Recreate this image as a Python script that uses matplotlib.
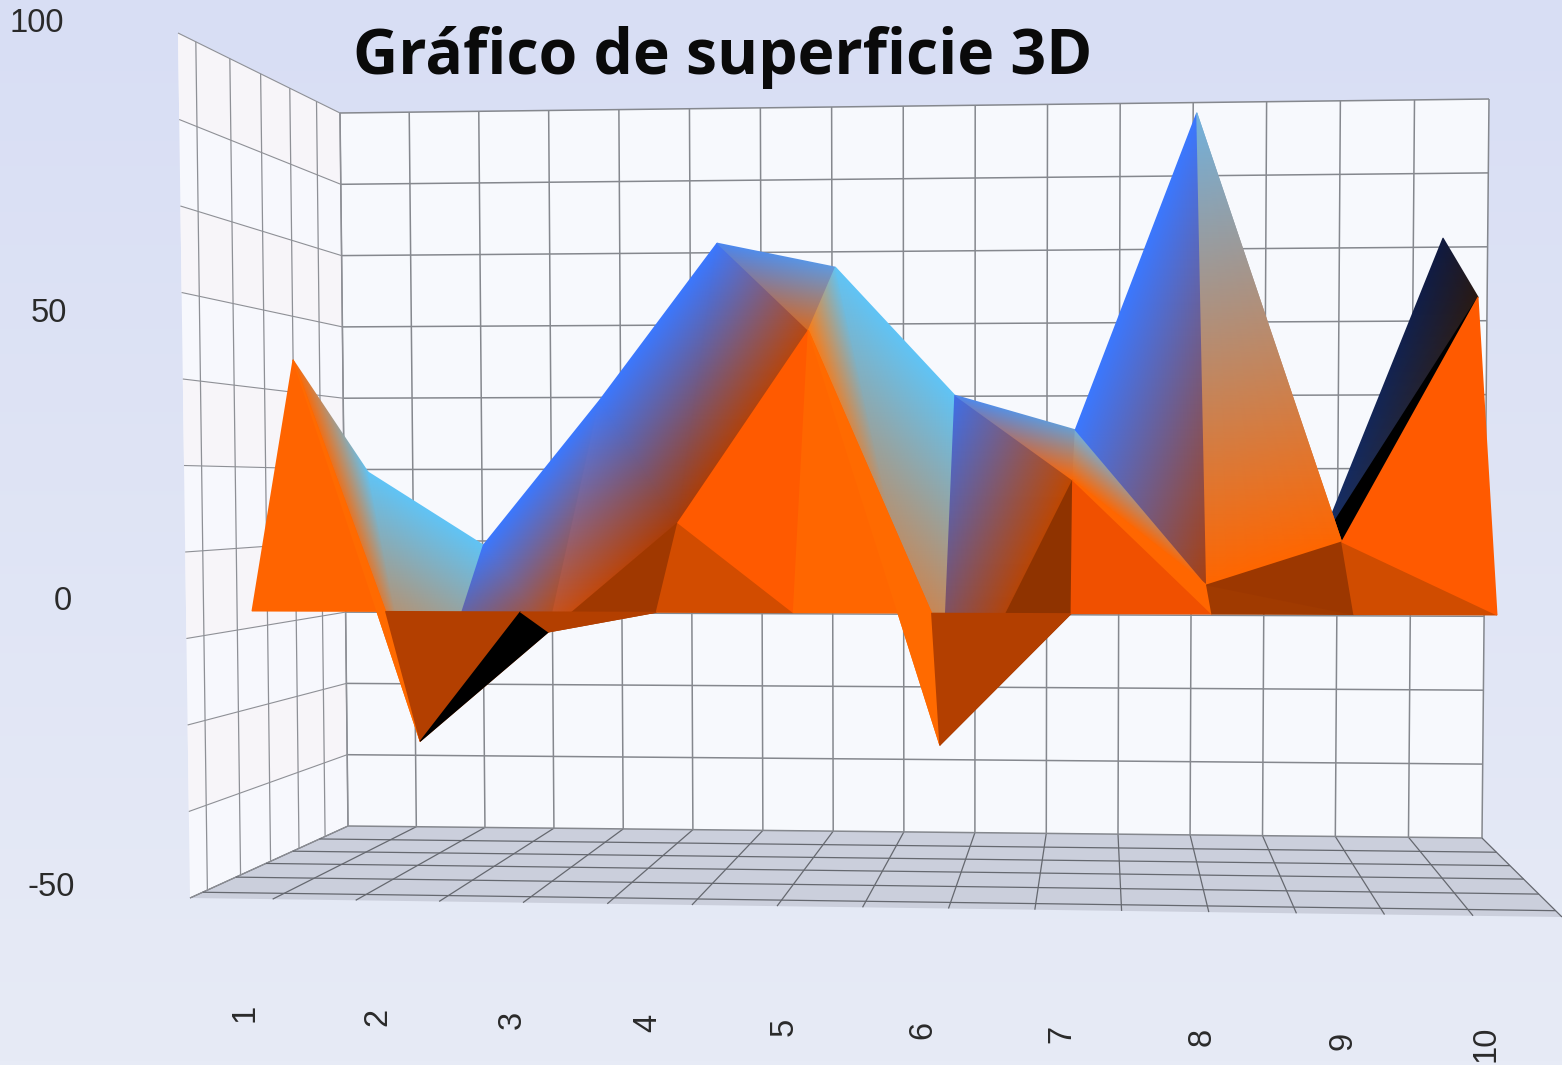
import numpy as np
import matplotlib
matplotlib.use('Agg')
import matplotlib.pyplot as plt
from matplotlib.colors import ListedColormap, Normalize, LinearSegmentedColormap
from matplotlib.patches import Polygon

categories = ['1', '2', '3', '4', '5', '6', '7', '8', '9', '10']
value_ticks = ['100', '50', '0', '-50']

# the three rows of the surface, front to back
front_row = [0, 0, 0, 0, 0, 0, 0, 0, 0, 0]
mid_row = [45.7, -26.2, -5.5, 15.2, 51.6, -26.6, 23.5, 3.8, 12.0, 58.3]
back_row = [24.0, 9.5, 38.6, 70.1, 65.4, 39.9, 33.1, 96.6, 10.3, 71.8]

W, H = 1562, 1065
PERSP = 1.04


def warp(t):
    return t / (t + (1 - t) * PERSP)


# row layout: x start, x end, y of zero left, y of zero right, px per unit
rows = {
    'F': (front_row, 252, 1497, 611, 615, 5.7),
    'M': (mid_row, 293, 1478, 602, 606, 5.3),
    'B': (back_row, 368, 1443, 592, 597, 5.0),
}


def pt(name):
    vals, x0, x1, yl, yr, sc = rows[name[0]]
    i = int(name[1:]) - 1
    f = warp(i / 9)
    return (x0 + (x1 - x0) * f, yl + (yr - yl) * f - vals[i] * sc)


def quad(c, s, t):
    # c = top left, top right, bottom right, bottom left
    tl, tr, br, bl = [np.array(p, float) for p in c]
    return (tl * (1 - s) + tr * s) * (1 - t) + (bl * (1 - s) + br * s) * t


BLUE = '#3b78ff'
LIGHT = '#60c4f6'
ORANGE = '#ff6600'

# facets in drawing order: three corners, three colours
faces = [
    # back strip
    ('M1', 'B1', 'M2', ORANGE, LIGHT, ORANGE),
    ('B1', 'B2', 'M2', LIGHT, LIGHT, ORANGE),
    ('B2', 'M3', 'M2', BLUE, '#c24a08', '#b04000'),
    ('B2', 'B3', 'M3', BLUE, BLUE, '#c24a08'),
    ('B3', 'M4', 'M3', BLUE, '#a83c08', '#d05010'),
    ('B3', 'B4', 'M4', BLUE, BLUE, '#a83c08'),
    ('B4', 'M5', 'M4', BLUE, '#b84810', '#a83c08'),
    ('B4', 'B5', 'M5', '#4a86f0', '#5f9ae0', '#d96a20'),
    ('B5', 'M6', 'M5', LIGHT, ORANGE, '#ff7a10'),
    ('B5', 'B6', 'M6', LIGHT, LIGHT, ORANGE),
    ('B6', 'M7', 'M6', '#3f6fe8', '#c04800', '#a84010'),
    ('B6', 'B7', 'M7', '#4a86f0', '#6a9fd0', ORANGE),
    ('B7', 'M8', 'M7', '#6fb0e0', ORANGE, ORANGE),
    ('B7', 'B8', 'M8', BLUE, BLUE, '#a84010'),
    ('B9', 'B10', 'M10', '#16306a', '#101a40', '#2a1a12'),
    ('B9', 'M10', 'M9', '#000000', '#000000', '#000000'),
    ('B8', 'B9', 'M9', '#6fb2e0', '#ff7a20', ORANGE),
    ('B8', 'M9', 'M8', '#6fb2e0', ORANGE, ORANGE),
    # front strip
    ('M1', 'F1', 'F2', '#ff6400', '#ff6400', '#ff6400'),
    ('M1', 'M2', 'F2', '#ff6a00', '#ff6a00', '#ff6a00'),
    ('M2', 'F2', 'F3', '#b33f00', '#b33f00', '#b33f00'),
    ('M2', 'M3', 'F3', '#000000', '#000000', '#000000'),
    ('M3', 'M4', 'F4', '#a03800', '#a03800', '#a03800'),
    ('M3', 'F3', 'F4', '#b33f00', '#b33f00', '#b33f00'),
    ('M4', 'F4', 'F5', '#d24c00', '#d24c00', '#d24c00'),
    ('M4', 'M5', 'F5', '#ff5a00', '#ff5a00', '#ff5a00'),
    ('M5', 'F5', 'F6', '#ff6600', '#ff6600', '#ff6600'),
    ('M5', 'M6', 'F6', '#ff6a00', '#ff6a00', '#ff6a00'),
    ('M6', 'M7', 'F7', '#8f3300', '#8f3300', '#8f3300'),
    ('M6', 'F6', 'F7', '#b33f00', '#b33f00', '#b33f00'),
    ('M7', 'F7', 'F8', '#f05000', '#f05000', '#f05000'),
    ('M7', 'M8', 'F8', '#ff6600', '#ff6600', '#ff6600'),
    ('M8', 'F8', 'F9', '#a03a00', '#a03a00', '#a03a00'),
    ('M8', 'M9', 'F9', '#9c3700', '#9c3700', '#9c3700'),
    ('M9', 'F9', 'F10', '#d04c00', '#d04c00', '#d04c00'),
    ('M9', 'M10', 'F10', '#ff5a00', '#ff5a00', '#ff5a00'),
]

fig = plt.figure(figsize=(W / 100, H / 100), dpi=100)
ax = fig.add_axes([0, 0, 1, 1])
ax.set_xlim(0, W)
ax.set_ylim(H, 0)
ax.axis('off')

# slide background
bg = LinearSegmentedColormap.from_list('bg', ['#d8def4', '#e7ebf6'])
ax.imshow(np.linspace(0, 1, 256).reshape(-1, 1), cmap=bg, extent=[0, W, H, 0],
          aspect='auto', zorder=0)

back_wall = [(340, 113), (1489, 99), (1482, 838), (348, 826)]
left_wall = [(178, 33), (340, 113), (348, 826), (190, 898)]
floor = [(348, 826), (1482, 838), (1562, 917), (190, 898)]

ax.add_patch(Polygon(back_wall, fc='#f7f9fd', ec='none', zorder=1))
ax.add_patch(Polygon(left_wall, fc='#f7f8fd', ec='none', zorder=1))
ax.add_patch(Polygon(floor, fc='#cbcfdc', ec='none', zorder=1))

# pale bands on the side wall
for k in range(0, 10, 2):
    band = [quad(left_wall, 0, k / 10), quad(left_wall, 1, k / 10),
            quad(left_wall, 1, (k + 1) / 10), quad(left_wall, 0, (k + 1) / 10)]
    ax.add_patch(Polygon(band, fc='#f7f5f9', ec='none', zorder=1))


def line(a, b, color, lw):
    ax.plot([a[0], b[0]], [a[1], b[1]], color=color, lw=lw, zorder=2,
            solid_capstyle='butt')


GRID = '#85888e'

for k in range(17):
    s = warp(k / 16)
    line(quad(back_wall, s, 0), quad(back_wall, s, 1), GRID, 1.1)
    line(quad(floor, s, 0), quad(floor, s, 1), '#65686f', 0.9)
for k in range(11):
    line(quad(back_wall, 0, k / 10), quad(back_wall, 1, k / 10), GRID, 1.1)
    line(quad(left_wall, 0, k / 10), quad(left_wall, 1, k / 10), '#8e9096', 0.8)

for s in [0.11, 0.32, 0.51, 0.69, 0.855, 1]:
    line(quad(left_wall, s, 0), quad(left_wall, s, 1), '#8e9096', 0.9)
for t in [0.18, 0.35, 0.52, 0.71, 0.92]:
    line(quad(floor, 0, t), quad(floor, 1, t), '#65686f', 0.9)

# the surface itself
xs, ys, tris, cols = [], [], [], []
for f in faces:
    n = len(xs)
    for name, c in zip(f[:3], f[3:]):
        x, y = pt(name)
        xs.append(x)
        ys.append(y)
        cols.append(c)
    tris.append([n, n + 1, n + 2])

ax.tripcolor(xs, ys, tris, np.arange(len(xs)), shading='gouraud',
             cmap=ListedColormap(cols), norm=Normalize(-0.5, len(xs) - 0.5),
             zorder=3)

# keep the limits after tripcolor
ax.set_xlim(0, W)
ax.set_ylim(H, 0)

ax.text(353, 74, 'Gráfico de superficie 3D', fontsize=45, fontweight='bold',
        family='Open Sans', color='#0a0a0a', ha='left', va='baseline', zorder=5)

tick_font = {'family': 'Liberation Sans', 'fontsize': 23.5, 'color': '#2a2a2a'}
for lab, r, y in zip(value_ticks, [64, 67, 72, 75], [24, 313, 601, 887]):
    ax.text(r, y, lab, ha='right', va='center', zorder=5, **tick_font)
for i, lab in enumerate(categories):
    t = i / 9
    ax.text(245 + (1486 - 245) * warp(t), 1013 + 31 * t, lab, rotation=90,
            ha='center', va='center', zorder=5, **tick_font)

fig.savefig('out.png', dpi=100)
